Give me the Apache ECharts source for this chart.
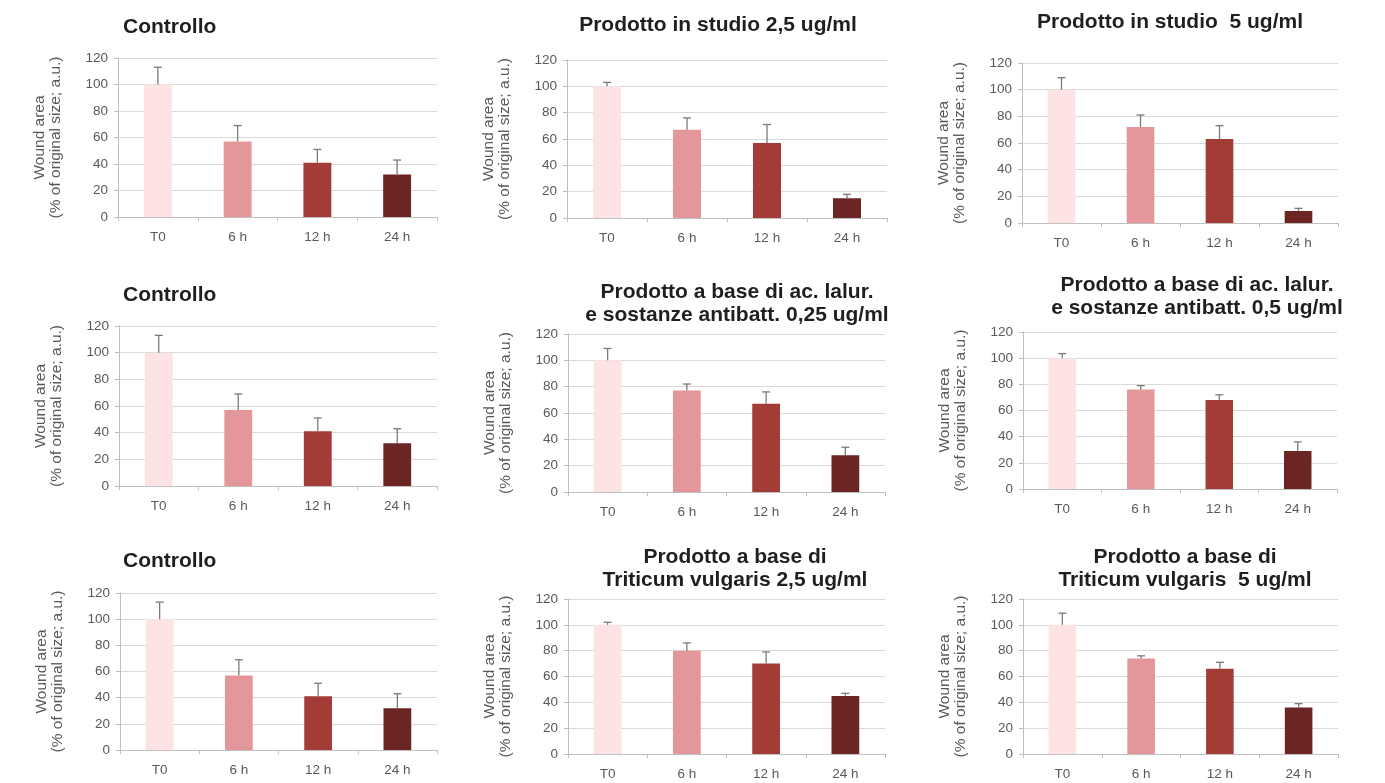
<!DOCTYPE html>
<html>
<head>
<meta charset="utf-8">
<script src="https://cdn.jsdelivr.net/npm/echarts@6/dist/echarts.min.js"></script>
<style>
html,body{margin:0;padding:0;background:#fff;}
#chart{width:1385px;height:783px;}
</style>
</head>
<body>
<div id="chart"></div>
<script>
// ---- Data ----
const categories = ['T0', '6 h', '12 h', '24 h'];
const yTicks = [0, 20, 40, 60, 80, 100, 120];
const yAxisName = 'Wound area\n(% of original size; a.u.)';

const titles = [
  'Controllo',
  'Prodotto in studio 2,5 ug/ml',
  'Prodotto in studio  5 ug/ml',
  'Controllo',
  'Prodotto a base di ac. lalur.\ne sostanze antibatt. 0,25 ug/ml',
  'Prodotto a base di ac. lalur.\ne sostanze antibatt. 0,5 ug/ml',
  'Controllo',
  'Prodotto a base di\nTriticum vulgaris 2,5 ug/ml',
  'Prodotto a base di\nTriticum vulgaris  5 ug/ml'
];

const controlloMean = [100, 57, 41, 32];
const controlloErr  = [13, 12, 10, 11];
const studio25Mean  = [100, 67, 57, 15];
const studio25Err   = [3, 9, 14, 3];
const studio5Mean   = [100, 72, 63, 9];
const studio5Err    = [9, 9, 10, 2];
const lalur025Mean  = [100, 77, 67, 28];
const lalur025Err   = [9, 5, 9, 6];
const lalur05Mean   = [100, 76, 68, 29];
const lalur05Err    = [3.5, 3, 4, 7];
const trit25Mean    = [100, 80, 70, 45];
const trit25Err     = [2, 6, 9, 2];
const trit5Mean     = [100, 74, 66, 36];
const trit5Err      = [9, 2, 5, 3];

const panelMeans = [controlloMean, studio25Mean, studio5Mean, controlloMean, lalur025Mean, lalur05Mean, controlloMean, trit25Mean, trit5Mean];
const panelErrs  = [controlloErr, studio25Err, studio5Err, controlloErr, lalur025Err, lalur05Err, controlloErr, trit25Err, trit5Err];

// ---- Layout / style ----
const barColors = ['#fde3e3', '#e3979a', '#a33b36', '#6b2523'];
const grids = [
  {l:118, r:437, t:58,  b:217},
  {l:567, r:887, t:60,  b:218},
  {l:1022,r:1338,t:63,  b:223},
  {l:119, r:437, t:326, b:486},
  {l:568, r:885, t:334, b:492},
  {l:1023,r:1337,t:332, b:489},
  {l:120, r:437, t:593, b:750},
  {l:568, r:885, t:599, b:754},
  {l:1023,r:1338,t:599, b:754}
];
// title anchor: [x, y of first line center, align]
const titlePos = [
  [123, 27, 'left'],
  [718, 25, 'center'],
  [1170, 22, 'center'],
  [123, 295, 'left'],
  [737, 292, 'center'],
  [1197, 285, 'center'],
  [123, 561, 'left'],
  [735, 557, 'center'],
  [1185, 557, 'center']
];

const W = 1385, H = 783;
const option = {
  animation: false,
  backgroundColor: '#ffffff',
  color: barColors,
  title: [], grid: [], xAxis: [], yAxis: [], series: []
};

const labelColor = '#595959';
const fontFam = 'Liberation Sans, Arial, sans-serif';
const titleLH = 23.5;

for (let i = 0; i < 9; i++) {
  const g = grids[i];
  const tp = titlePos[i];
  option.title.push({
    text: titles[i],
    left: tp[0], top: tp[1] - titleLH / 2,
    textAlign: tp[2],
    padding: 0,
    textStyle: {fontFamily: fontFam, fontWeight: 'bold', fontSize: 21, lineHeight: titleLH, color: '#1f1f1f'}
  });
  option.grid.push({left: g.l, top: g.t, width: g.r - g.l, height: g.b - g.t, containLabel: false});
  option.xAxis.push({
    type: 'category', gridIndex: i, data: categories,
    axisLine: {lineStyle: {color: '#bfbfbf', width: 1}},
    axisTick: {show: true, length: 4, lineStyle: {color: '#bfbfbf'}},
    axisLabel: {color: labelColor, fontFamily: fontFam, fontSize: 13.5, margin: 13}
  });
  option.yAxis.push({
    type: 'value', gridIndex: i, min: yTicks[0], max: yTicks[yTicks.length - 1], interval: yTicks[1] - yTicks[0],
    name: yAxisName, nameLocation: 'middle', nameGap: 54, nameRotate: 90,
    nameTextStyle: {color: labelColor, fontFamily: fontFam, fontSize: 15.5, lineHeight: 16.5},
    axisLine: {show: true, lineStyle: {color: '#bfbfbf', width: 1}},
    axisTick: {show: true, length: 4, lineStyle: {color: '#bfbfbf'}},
    axisLabel: {color: labelColor, fontFamily: fontFam, fontSize: 13.5, margin: 10},
    splitLine: {lineStyle: {color: '#d9d9d9', width: 1}}
  });
  const means = panelMeans[i], errs = panelErrs[i];
  option.series.push({
    type: 'bar', xAxisIndex: i, yAxisIndex: i,
    colorBy: 'data', barWidth: '35%',
    data: means.slice(),
    z: 2
  });
  option.series.push({
    type: 'custom', xAxisIndex: i, yAxisIndex: i, z: 3,
    data: means.map((m, k) => [k, m, m + errs[k]]),
    renderItem: function (params, api) {
      const base = api.coord([api.value(0), api.value(1)]);
      const top = api.coord([api.value(0), api.value(2)]);
      const hw = 4;
      const st = {stroke: '#7a7a7a', lineWidth: 1.3};
      return {
        type: 'group',
        children: [
          {type: 'line', shape: {x1: base[0], y1: base[1], x2: top[0], y2: top[1]}, style: st},
          {type: 'line', shape: {x1: top[0] - hw, y1: top[1], x2: top[0] + hw, y2: top[1]}, style: st}
        ]
      };
    }
  });
}

const chart = echarts.init(document.getElementById('chart'), null, {renderer: 'canvas', width: W, height: H});
chart.setOption(option);
</script>
</body>
</html>
